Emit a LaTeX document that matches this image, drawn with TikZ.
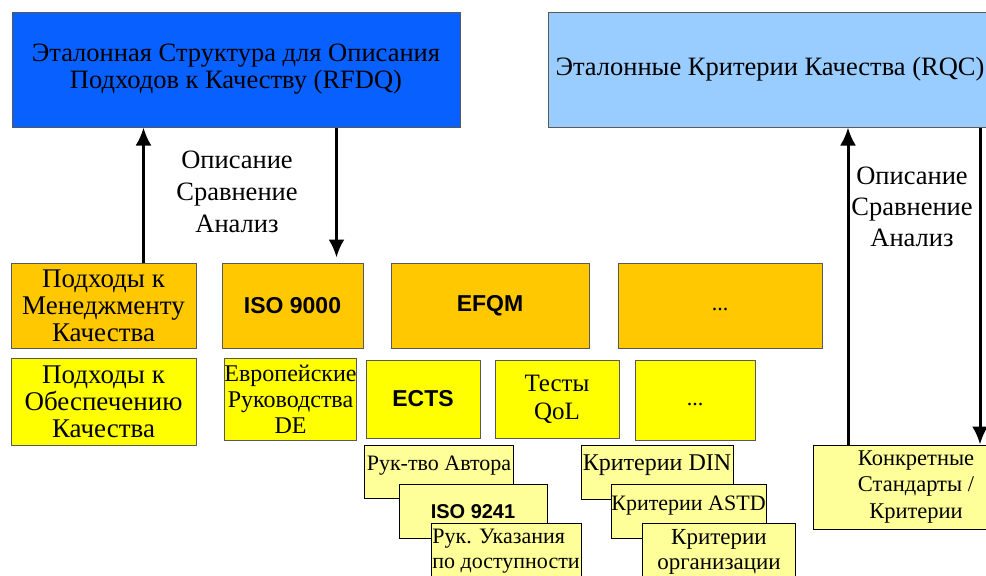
\documentclass[tikz,border=0pt]{standalone}
\usepackage{fontspec}
\setmainfont{Liberation Serif}
\setsansfont{Liberation Sans}
\usepackage{xcolor}
\usetikzlibrary{arrows.meta}

\definecolor{rfdqblue}{RGB}{8,96,255}
\definecolor{rqcblue}{RGB}{153,204,255}
\definecolor{apporange}{RGB}{255,200,0}
\definecolor{appyellow}{RGB}{255,255,0}
\definecolor{paleyellow}{RGB}{255,255,153}

\tikzset{
  box/.style={draw=black!65,line width=1pt,inner sep=0pt,align=center,font=\fontsize{27}{27}\selectfont},
  topbox/.style={box,minimum height=115pt,font=\fontsize{26.5}{27}\selectfont},
  mainbox/.style={box,fill=apporange},
  subbox/.style={box,fill=appyellow},
  stackbox/.style={draw=black,line width=1pt,fill=paleyellow,inner sep=0pt,align=center,font=\fontsize{22}{25}\selectfont},
  stacktext/.style={inner sep=0pt,font=\fontsize{22}{25}\selectfont},
  sanslabel/.style={font=\sffamily\bfseries\fontsize{23}{27}\selectfont},
  flow/.style={->,line width=3pt},
}

\begin{document}
\begin{tikzpicture}[x=1pt,y=-1pt,>={Latex[length=18pt,width=16pt]}]
    \useasboundingbox (0,0) rectangle (986,576);
    % reference frames
    \node[topbox,fill=rfdqblue,minimum width=448pt] (rfdq) at (236,69.5) {Эталонная Структура для Описания\\Подходов к Качеству (RFDQ)};
    \node[topbox,fill=rqcblue,minimum width=444pt] (rqc) at (770,69.5) {Эталонные Критерии Качества (RQC)};

    % approaches
    \node[mainbox,minimum width=185pt,minimum height=85pt] (mgmt) at (103.5,305.5) {Подходы к\\Менеджменту\\Качества};
    \node[mainbox,sanslabel,minimum width=141pt,minimum height=85pt] (iso9000) at (292.5,305.5) {ISO 9000};
    \node[mainbox,sanslabel,minimum width=198pt,minimum height=85pt] (efqm) at (490,305.5) {EFQM};
    \node[mainbox,minimum width=204pt,minimum height=85pt] (moreA) at (720,305.5) {};
    \node[stacktext] (moreAtxt) at ([yshift=-4pt]moreA.center) {...};

    \node[subbox,minimum width=185pt,minimum height=87pt] (assur) at (103.5,401.5) {Подходы к\\Обеспечению\\Качества};
    \node[subbox,font=\fontsize{24}{26}\selectfont,minimum width=129pt,minimum height=82pt] (euro) at (290.5,399) {Европейские\\Руководства\\DE};
    \node[subbox,sanslabel,minimum width=114pt,minimum height=78pt] (ects) at (423,399) {ECTS};
    \node[subbox,font=\fontsize{25}{28}\selectfont,minimum width=124pt,minimum height=78pt] (qol) at (557,399) {Тесты\\QoL};
    \node[subbox,minimum width=120pt,minimum height=80pt] (moreB) at (695,400) {};
    \node[stacktext] (moreBtxt) at ([yshift=-5pt]moreB.center) {...};

    % stacked guides
    \node[stackbox,minimum width=149pt,minimum height=53pt] (author) at (439,472) {};
    \node[stacktext] (authortxt) at ([yshift=6pt]author.center) {Рук-тво Автора};
    \node[stackbox,font=\sffamily\bfseries\fontsize{20}{24}\selectfont,minimum width=148pt,minimum height=54pt] (iso9241) at (473,511.5) {ISO 9241};
    \node[stackbox,align=left,minimum width=150pt,minimum height=57pt] (access) at (506,551.5) {Рук. Указания\\по доступности};

    \node[stackbox,minimum width=152pt,minimum height=54pt] (din) at (657,472) {};
    \node[stacktext,font=\fontsize{24}{25}\selectfont] (dintxt) at ([yshift=7pt]din.center) {Критерии DIN};
    \node[stackbox,minimum width=155pt,minimum height=54pt] (astd) at (688.5,511.5) {};
    \node[stacktext] (astdtxt) at ([yshift=6pt]astd.center) {Критерии ASTD};
    \node[stackbox,font=\fontsize{23}{25}\selectfont,minimum width=153pt,minimum height=57pt] (orgcrit) at (719,551.5) {Критерии\\организации};

    \node[stackbox,font=\fontsize{22.5}{26.5}\selectfont,minimum width=206pt,minimum height=84pt] (concrete) at (916,487) {Конкретные\\Стандарты /\\Критерии};

    % connectors
    \draw[flow] ([xshift=40pt]mgmt.north) -- ([xshift=40pt]mgmt.north |- rfdq.south);
    \draw[flow] ([xshift=44pt]iso9000.north |- rfdq.south) -- ([xshift=44pt,yshift=5pt]iso9000.north);
    \node[font=\fontsize{26.5}{32}\selectfont,align=center] (rfdqops) at (237,192) {Описание\\Сравнение\\Анализ};

    \draw[flow] ([xshift=-68pt]concrete.north) -- ([xshift=-68pt]concrete.north |- rqc.south);
    \draw[flow] ([xshift=64pt]concrete.north |- rqc.south) -- ([xshift=64pt]concrete.north);
    \node[font=\fontsize{26.5}{31}\selectfont,align=center] (rqcops) at (912,207) {Описание\\Сравнение\\Анализ};
\end{tikzpicture}
\end{document}
